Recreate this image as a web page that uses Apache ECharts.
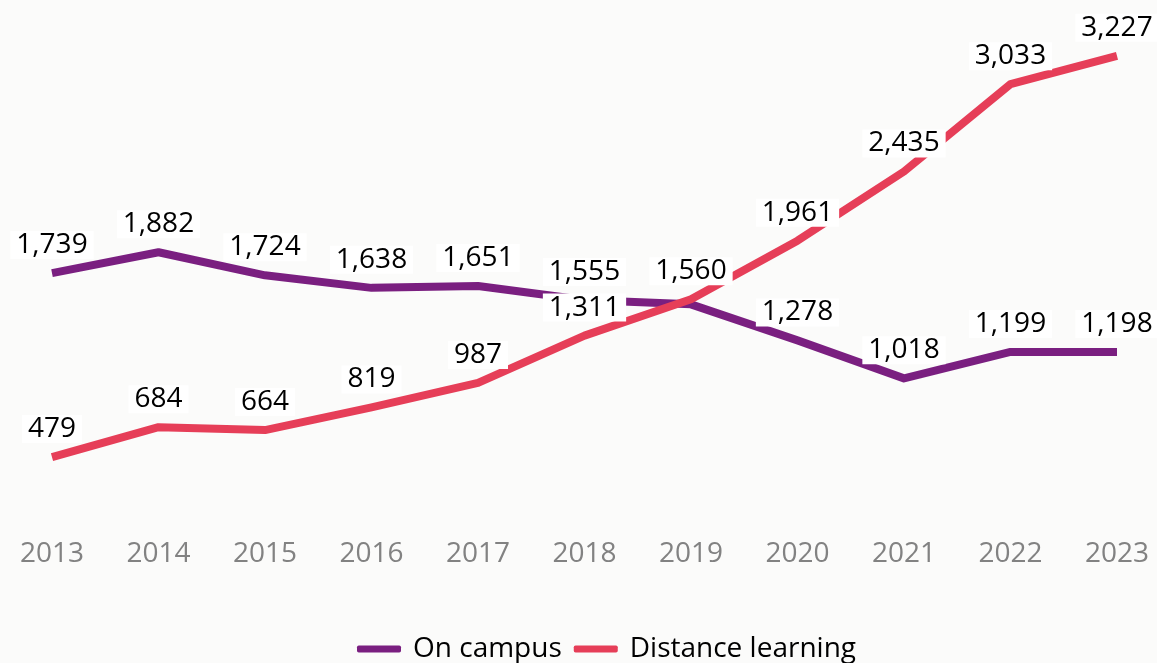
<!DOCTYPE html>
<html>
<head>
<meta charset="utf-8">
<style>
  html, body { margin: 0; padding: 0; background: #fbfbfa; }
  #chart { width: 1157px; height: 663px; }
</style>
<script src="https://cdn.jsdelivr.net/npm/echarts@6/dist/echarts.min.js"></script>
</head>
<body>
<div id="chart"></div>
<script>
// Student enrolment by study mode, 2013–2023
const years = ['2013', '2014', '2015', '2016', '2017', '2018', '2019', '2020', '2021', '2022', '2023'];
const onCampus = [1739, 1882, 1724, 1638, 1651, 1555, 1525, 1278, 1018, 1199, 1198];
const distanceLearning = [479, 684, 664, 819, 987, 1311, 1560, 1961, 2435, 3033, 3227];
// On-campus value for 2019 carries no label (its callout is shared with the crossing point)
const hiddenOnCampusLabels = ['2019'];

const FONT = '"Open Sans", "Noto Sans", sans-serif';
const PURPLE = '#7a1f80';
const RED = '#e63e58';

const labelStyle = {
  show: true,
  position: 'top',
  distance: 14,
  color: '#000',
  fontFamily: FONT,
  fontSize: 28,
  backgroundColor: '#ffffff',
  padding: [0, 6, 0, 6],
  formatter: p => Number(p.value).toLocaleString('en-US')
};

const chart = echarts.init(document.getElementById('chart'), null, { renderer: 'canvas' });

chart.setOption({
  backgroundColor: '#fbfbfa',
  animation: false,
  grid: { left: 52, right: 40, top: 16, bottom: 136, containLabel: false },
  xAxis: {
    type: 'category',
    data: years,
    boundaryGap: false,
    axisLine: { show: false },
    axisTick: { show: false },
    axisLabel: { color: '#828282', fontFamily: FONT, fontSize: 28, margin: 13 }
  },
  yAxis: {
    type: 'value',
    min: 0,
    max: 3500,
    show: false,
    splitLine: { show: false }
  },
  legend: {
    bottom: -5,
    left: 352,
    itemWidth: 44,
    itemHeight: 7,
    itemGap: 12,
    icon: 'roundRect',
    textStyle: { color: '#000', fontFamily: FONT, fontSize: 28, padding: [0, 0, 0, 7] },
    data: ['On campus', 'Distance learning']
  },
  series: [
    {
      name: 'On campus',
      type: 'line',
      data: onCampus.map((v, i) => hiddenOnCampusLabels.includes(years[i])
        ? { value: v, label: { show: false } }
        : v),
      symbol: 'circle',
      symbolSize: 0.01,
      showSymbol: true,
      lineStyle: { color: PURPLE, width: 8, cap: 'butt', join: 'round' },
      itemStyle: { color: PURPLE },
      label: labelStyle,
      z: 2
    },
    {
      name: 'Distance learning',
      type: 'line',
      data: distanceLearning,
      symbol: 'circle',
      symbolSize: 0.01,
      showSymbol: true,
      lineStyle: { color: RED, width: 8, cap: 'butt', join: 'round' },
      itemStyle: { color: RED },
      label: labelStyle,
      z: 3
    }
  ]
});
</script>
</body>
</html>
